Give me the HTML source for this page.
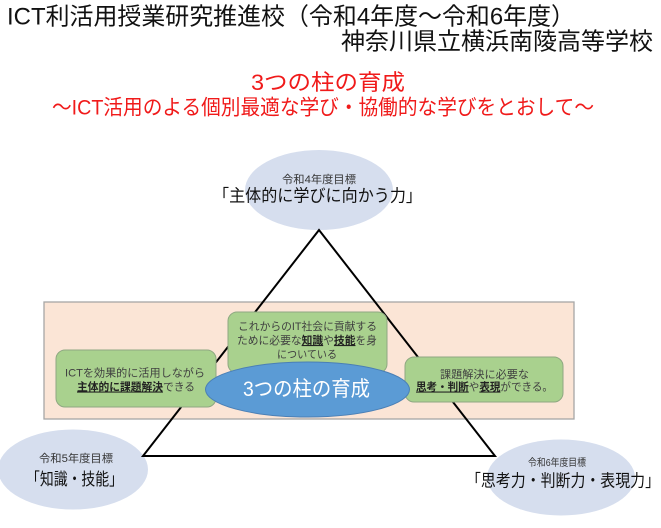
<!DOCTYPE html>
<html>
<head>
<meta charset="utf-8">
<style>
  html,body{margin:0;padding:0;background:#fff;}
  svg{display:block;}
  text{font-family:"Liberation Sans","Noto Sans CJK JP",sans-serif;}
</style>
</head>
<body>
<svg width="661" height="528" viewBox="0 0 661 528" xmlns="http://www.w3.org/2000/svg">
  <rect x="0" y="0" width="661" height="528" fill="#ffffff"/>

  <!-- Titles -->
  <text x="7" y="24.5" font-size="24" fill="#111" textLength="568" lengthAdjust="spacingAndGlyphs">ICT利活用授業研究推進校（令和4年度～令和6年度）</text>
  <text x="341" y="49.5" font-size="24" fill="#111" textLength="312" lengthAdjust="spacingAndGlyphs">神奈川県立横浜南陵高等学校</text>
  <text x="251" y="90" font-size="22" fill="#f01a1a" textLength="154" lengthAdjust="spacingAndGlyphs">3つの柱の育成</text>
  <text x="52" y="114.5" font-size="21" fill="#f01a1a" textLength="542" lengthAdjust="spacingAndGlyphs">～ICT活用のよる個別最適な学び・協働的な学びをとおして～</text>

  <!-- Pink background rect -->
  <rect x="44" y="302" width="530" height="117" fill="#FBE5D6" stroke="#A6A6A6" stroke-width="1.3"/>

  <!-- Light ellipses -->
  <ellipse cx="319" cy="190" rx="74" ry="40" fill="#D6DEEE"/>
  <ellipse cx="73" cy="469.5" rx="75" ry="40" fill="#D6DEEE"/>
  <ellipse cx="561" cy="477.5" rx="74" ry="38" fill="#D6DEEE"/>

  <!-- Triangle -->
  <polygon points="319,230 143,456 495,456" fill="none" stroke="#000" stroke-width="2" stroke-linejoin="miter"/>

  <!-- Ellipse texts -->
  <text x="282" y="183" font-size="11" fill="#333" textLength="74" lengthAdjust="spacingAndGlyphs">令和4年度目標</text>
  <text x="213" y="201.5" font-size="17" fill="#111" textLength="209" lengthAdjust="spacingAndGlyphs">「主体的に学びに向かう力」</text>

  <text x="39" y="462" font-size="11" fill="#333" textLength="74" lengthAdjust="spacingAndGlyphs">令和5年度目標</text>
  <text x="26" y="485" font-size="17" fill="#111" textLength="97" lengthAdjust="spacingAndGlyphs">「知識・技能」</text>

  <text x="528" y="466" font-size="10" fill="#333" textLength="58" lengthAdjust="spacingAndGlyphs">令和6年度目標</text>
  <text x="466" y="486.5" font-size="17" fill="#111" textLength="194" lengthAdjust="spacingAndGlyphs">「思考力・判断力・表現力」</text>

  <!-- Green boxes -->
  <rect x="228" y="312" width="159" height="61" rx="9" ry="9" fill="#A9D18E" stroke="#8FA882" stroke-width="1"/>
  <rect x="56" y="350" width="160" height="57" rx="9" ry="9" fill="#A9D18E" stroke="#8FA882" stroke-width="1"/>
  <rect x="405" y="357" width="158" height="45" rx="9" ry="9" fill="#A9D18E" stroke="#8FA882" stroke-width="1"/>

  <!-- Top box text -->
  <text x="238" y="330" font-size="11" fill="#404040" textLength="139" lengthAdjust="spacingAndGlyphs">これからのIT社会に貢献する</text>
  <text x="237" y="344" font-size="11" fill="#404040" textLength="140" lengthAdjust="spacingAndGlyphs">ために必要な<tspan fill="#222" font-weight="bold" text-decoration="underline">知識</tspan>や<tspan fill="#222" font-weight="bold" text-decoration="underline">技能</tspan>を身</text>
  <text x="277" y="358" font-size="11" fill="#404040" textLength="60" lengthAdjust="spacingAndGlyphs">についている</text>

  <!-- Left box text -->
  <text x="65" y="376.5" font-size="11" fill="#404040" textLength="140" lengthAdjust="spacingAndGlyphs">ICTを効果的に活用しながら</text>
  <text x="77" y="390.5" font-size="11" fill="#404040" textLength="118" lengthAdjust="spacingAndGlyphs"><tspan fill="#222" font-weight="bold" text-decoration="underline">主体的に課題解決</tspan>できる</text>

  <!-- Right box text -->
  <text x="440" y="378" font-size="11" fill="#404040" textLength="89" lengthAdjust="spacingAndGlyphs">課題解決に必要な</text>
  <text x="416" y="390.5" font-size="11" fill="#404040" textLength="137" lengthAdjust="spacingAndGlyphs"><tspan fill="#222" font-weight="bold" text-decoration="underline">思考・判断</tspan>や<tspan fill="#222" font-weight="bold" text-decoration="underline">表現</tspan>ができる。</text>

  <!-- Blue center ellipse -->
  <ellipse cx="307.5" cy="389.5" rx="102" ry="27.5" fill="#5B9BD5" stroke="#4A7FB5" stroke-width="1"/>
  <text x="243" y="396" font-size="21" fill="#ffffff" textLength="127" lengthAdjust="spacingAndGlyphs">3つの柱の育成</text>
</svg>
</body>
</html>
